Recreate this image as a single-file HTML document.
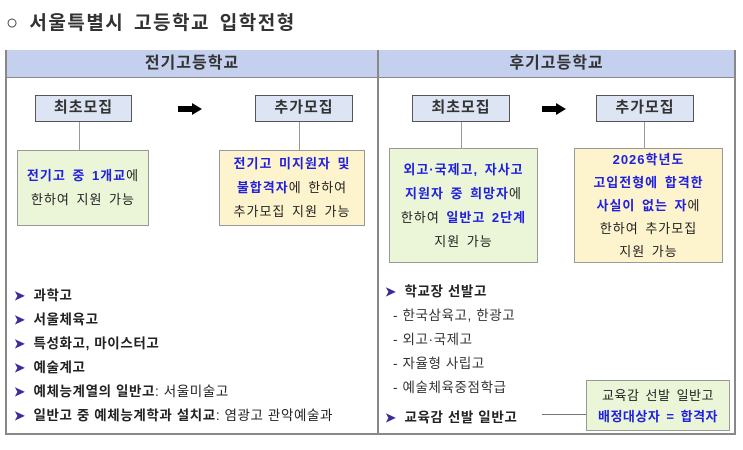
<!DOCTYPE html>
<html><head><meta charset="utf-8"><style>
body{margin:0;width:743px;height:450px;background:#fff;font-family:"Liberation Sans","Noto Sans CJK KR",sans-serif;position:relative;overflow:hidden;color:#222}
div{position:absolute;box-sizing:border-box}
.hd{background:#c5d0ee;border-bottom:1px solid #888;height:28px;top:50px;font-size:16px;font-weight:bold;text-align:center;line-height:27px;color:#333;letter-spacing:1px}
.tb{height:27px;background:#dde4f4;border:1.5px solid #555;font-size:15px;font-weight:bold;text-align:center;line-height:24px;top:95px;color:#333;letter-spacing:1px}
.vl{width:1px;background:#999}
.g,.y{border:1.5px solid #999;font-size:13px;text-align:center;line-height:24px;display:flex;flex-direction:column;justify-content:center;letter-spacing:1px;word-spacing:2px}
.g{background:#ebf5d7}
.y{background:#fdf3cc}
.b{color:#2020e0;font-weight:bold}
.li{font-size:13.5px;font-weight:bold;white-space:nowrap;color:#222;letter-spacing:0.6px}
.li span.n{font-weight:normal}
.bu{color:#3a2a9a;font-size:13px;margin-right:8px}
.d{font-size:13.5px;white-space:nowrap;color:#333;letter-spacing:0.6px}
</style></head><body>
<div style="left:6px;top:8px;font-size:19px;font-weight:bold;color:#333;letter-spacing:1.5px;word-spacing:3px"><span style="font-size:20px;font-weight:normal">○</span> 서울특별시 고등학교 입학전형</div>
<div style="left:5px;top:50px;width:731px;height:385px;border:2px solid #888"></div>
<div style="left:377px;top:50px;width:2px;height:385px;background:#888"></div>
<div class="hd" style="left:7px;width:370px">전기고등학교</div>
<div class="hd" style="left:379px;width:355px">후기고등학교</div>

<div class="tb" style="left:35px;width:97px">최초모집</div>
<svg style="position:absolute;left:178px;top:103px" width="24" height="12"><path d="M0 3h14V0l10 6-10 6V9H0z" fill="#000"/></svg>
<div class="tb" style="left:255px;width:98px">추가모집</div>
<div class="vl" style="left:79px;top:122px;height:28px"></div>
<div class="vl" style="left:299px;top:122px;height:28px"></div>
<div class="g" style="left:17px;top:150px;width:132px;height:76px"><div style="position:static"><span class="b">전기고 중 1개교</span>에</div><div style="position:static">한하여 지원 가능</div></div>
<div class="y" style="left:219px;top:150px;width:146px;height:76px"><div style="position:static" class="b">전기고 미지원자 및</div><div style="position:static"><span class="b">불합격자</span>에 한하여</div><div style="position:static">추가모집 지원 가능</div></div>

<div class="tb" style="left:412px;width:98px">최초모집</div>
<svg style="position:absolute;left:542px;top:103px" width="24" height="12"><path d="M0 3h14V0l10 6-10 6V9H0z" fill="#000"/></svg>
<div class="tb" style="left:596px;width:98px">추가모집</div>
<div class="vl" style="left:461px;top:122px;height:27px"></div>
<div class="vl" style="left:644px;top:122px;height:27px"></div>
<div class="g" style="left:389px;top:148px;width:149px;height:115px"><div style="position:static" class="b">외고·국제고, 자사고</div><div style="position:static"><span class="b">지원자 중 희망자</span>에</div><div style="position:static">한하여 <span class="b">일반고 2단계</span></div><div style="position:static">지원 가능</div></div>
<div class="y" style="left:574px;top:148px;width:149px;height:115px;line-height:23px"><div style="position:static" class="b">2026학년도</div><div style="position:static" class="b">고입전형에 합격한</div><div style="position:static"><span class="b">사실이 없는 자</span>에</div><div style="position:static">한하여 추가모집</div><div style="position:static">지원 가능</div></div>

<div class="li" style="left:14px;top:284px"><span class="bu">➤</span>과학고</div>
<div class="li" style="left:14px;top:308px"><span class="bu">➤</span>서울체육고</div>
<div class="li" style="left:14px;top:332px"><span class="bu">➤</span>특성화고, 마이스터고</div>
<div class="li" style="left:14px;top:356px"><span class="bu">➤</span>예술계고</div>
<div class="li" style="left:14px;top:380px"><span class="bu">➤</span>예체능계열의 일반고<span class="n">: 서울미술고</span></div>
<div class="li" style="left:14px;top:404px"><span class="bu">➤</span>일반고 중 예체능계학과 설치교<span class="n">: 염광고 관악예술과</span></div>

<div class="li" style="left:385px;top:280px"><span class="bu">➤</span>학교장 선발고</div>
<div class="d" style="left:393px;top:304px">- 한국삼육고, 한광고</div>
<div class="d" style="left:393px;top:328px">- 외고·국제고</div>
<div class="d" style="left:393px;top:352px">- 자율형 사립고</div>
<div class="d" style="left:393px;top:376px">- 예술체육중점학급</div>
<div class="li" style="left:385px;top:406px"><span class="bu">➤</span>교육감 선발 일반고</div>
<div style="left:542px;top:414px;width:44px;height:1px;background:#777"></div>
<div class="g" style="left:586px;top:380px;width:144px;height:51px;line-height:21px;font-size:13px;letter-spacing:0.5px"><div style="position:static">교육감 선발 일반고</div><div style="position:static" class="b">배정대상자 = 합격자</div></div>
</body></html>
